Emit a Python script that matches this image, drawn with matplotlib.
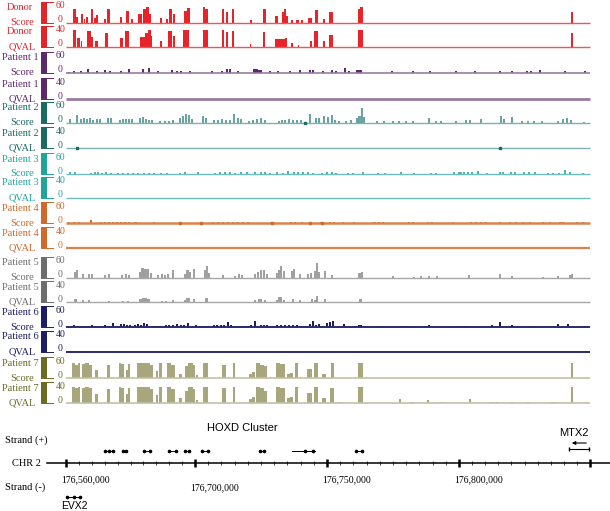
import numpy as np
import matplotlib
matplotlib.use("Agg")
import matplotlib.pyplot as plt
from matplotlib.patches import Rectangle

W, H = 610, 511
SERIF = "Liberation Serif"
SANS = "Liberation Sans"

# peaks are (start, end, value); start/end are positions along the browser window
donor_score = [(73,76,46),(76,78,20),(81,83,30),(84,85,12),(86,88,18),(91,93,44),(94,96,14),(96,98,24),
               (104,106,12),(107,110,46),(120,122,18),(126,129,40),(131,133,12),(138,142,28),(143,146,44),
               (146,149,52),(149,151,30),(160,162,16),(166,168,12),(169,172,46),(173,175,30),(184,187,38),
               (187,190,50),(203,205,52),(205,208,46),(222,224,46),(226,228,34),(232,234,46),(250,252,10),
               (263,266,46),(275,278,22),(282,284,34),(284,286,46),(286,288,22),(291,293,10),(296,299,8),
               (301,303,10),(308,312,16),(315,318,42),(323,325,12),(329,333,34),(358,360,44),(360,363,52),
               (571,573,36)]
donor_qval = [(73,76,36),(77,80,20),(81,82,12),(87,91,34),(91,93,22),(95,98,12),(105,108,30),(120,123,20),
              (125,129,34),(140,145,22),(145,148,30),(148,151,36),(150,152,24),(160,162,12),(168,172,34),
              (173,175,24),(183,189,36),(203,208,36),(222,224,36),(226,228,32),(232,234,34),(250,251,6),
              (263,265,32),(275,285,16),(285,287,20),(291,293,8),(298,299,4),(310,312,12),(314,318,34),
              (323,325,12),(329,333,26),(358,363,36),(571,573,30)]
p1_score = [(68,70,3),(73,75,4),(80,82,5),(87,89,13),(96,98,6),(104,106,9),(109,111,7),(120,122,5),(128,130,11),
            (142,144,11),(148,150,16),(157,159,6),(171,173,9),(176,178,5),(180,182,6),(189,191,6),(211,213,6),
            (221,223,6),(226,228,11),(229,231,13),(237,239,6),(253,255,13),(255,258,11),(258,262,9),(269,271,6),
            (277,279,6),(289,291,6),(299,301,9),(309,311,9),(312,314,8),(322,324,6),(331,333,9),(335,337,5),
            (344,346,17),(348,350,6),(356,358,9),(358,362,10),(391,393,4),(412,414,4),(429,431,4),(455,457,5),
            (474,476,5),(499,501,5),(511,513,5),(526,528,4),(530,532,5),(539,541,9),(564,566,4),(584,586,5)]
p1_qval = []
p2_score = [(69,71,11),(76,78,24),(80,82,11),(83,85,14),(86,88,12),(89,91,15),(92,94,10),(96,98,13),(99,101,11),
            (107,109,16),(110,112,14),(119,121,9),(122,124,12),(125,127,13),(128,130,11),(131,133,12),(139,141,14),
            (142,144,20),(145,147,12),(148,150,10),(151,153,8),(159,161,6),(164,166,7),(168,170,6),(172,174,8),
            (179,181,14),(182,184,22),(185,187,30),(188,190,24),(191,193,12),(202,204,22),(205,207,16),(213,215,8),
            (217,219,10),(221,223,11),(225,227,10),(229,231,9),(233,235,28),(237,239,14),(240,242,13),(248,250,6),
            (252,254,9),(256,258,12),(260,262,14),(264,266,8),(278,280,6),(281,283,9),(284,286,10),(288,290,11),
            (292,294,9),(296,298,10),(300,302,8),(309,311,28),(315,317,16),(318,320,14),(323,325,22),(327,329,18),
            (331,333,24),(334,336,10),(338,340,4),(345,347,6),(350,352,10),(356,358,16),(358,361,22),(361,363,50),
            (363,365,18),(376,378,4),(383,385,4),(392,394,4),(398,400,5),(405,407,4),(412,414,5),(428,430,15),
            (435,437,5),(440,442,4),(455,457,4),(465,467,8),(469,471,10),(480,482,11),(500,502,22),(503,505,12),
            (511,513,18),(521,523,5),(527,529,5),(533,535,6),(541,543,4),(557,559,6),(562,564,12),(566,568,14),
            (570,572,10),(583,585,3)]
p2_qval = []
p3_score = [(69,71,6),(74,76,5),(90,92,3),(94,96,5),(97,99,8),(101,103,4),(105,107,5),(110,112,3),(117,119,3),
            (122,124,3),(127,129,4),(132,134,3),(137,139,3),(143,145,4),(148,150,3),(153,155,3),(160,162,3),
            (166,168,4),(179,181,4),(184,186,7),(197,199,5),(214,216,4),(219,221,5),(224,226,6),(229,231,5),
            (234,236,4),(240,242,6),(246,248,8),(254,256,6),(260,262,5),(264,266,7),(269,271,4),(276,278,8),
            (282,284,4),(287,289,9),(293,295,5),(297,299,6),(302,304,5),(307,309,5),(312,314,4),(321,323,4),
            (326,328,6),(331,333,5),(335,337,4),(347,349,3),(352,354,3),(362,364,5),(377,379,3),(384,386,3),
            (400,402,6),(413,415,3),(430,432,4),(435,437,4),(453,455,5),(458,462,7),(463,465,6),(467,469,8),
            (471,473,6),(477,479,10),(486,488,4),(499,501,8),(502,504,6),(510,512,8),(514,516,7),(523,525,5),
            (528,530,6),(534,536,5),(547,549,3),(552,554,3),(558,560,4),(564,566,12),(569,571,6),(582,584,3)]
p3_qval = []
p4_score = [(68,70,4),(73,75,5),(78,80,4),(90,92,10),(100,102,4),(104,106,5),(108,110,4),(112,114,5),(116,118,4),
            (120,122,5),(124,126,4),(128,130,4),(134,137,5),(153,155,4),(212,214,4),(217,219,4),(222,224,4),
            (227,229,5),(232,234,4),(237,239,5),(242,244,4),(247,249,5),(270,272,5),(290,292,4),(294,296,4),
            (301,303,5),(320,322,5),(329,331,5),(333,335,3),(342,344,4),(353,355,4),(373,376,6),(378,380,5),
            (382,384,4),(408,410,4),(412,414,5),(427,429,4),(431,433,5),(452,454,4),(470,472,4),(475,477,5),
            (480,482,4),(485,487,5),(499,501,4),(509,511,5),(515,517,4),(522,524,5),(529,531,4),(542,544,4),
            (549,551,5),(559,561,4),(562,564,5),(576,578,4),(582,584,6)]
p4_qval = []
p5_score = [(74,76,20),(76,78,24),(82,84,11),(88,90,13),(91,93,11),(104,106,8),(108,110,11),(121,123,8),
            (125,127,11),(128,130,9),(139,141,20),(141,144,33),(144,147,28),(147,149,30),(150,152,14),(157,159,9),
            (161,163,11),(164,166,10),(167,169,12),(172,174,24),(184,186,12),(186,189,26),(189,191,20),(193,195,28),
            (204,206,24),(206,208,38),(208,210,14),(222,224,9),(234,236,6),(238,240,11),(241,243,10),(254,256,11),
            (257,259,20),(260,262,24),(263,265,24),(266,268,12),(276,278,16),(278,280,24),(280,282,38),(283,285,22),
            (291,293,22),(293,295,28),(299,301,11),(307,309,12),(310,312,17),(314,316,22),(316,318,48),(318,320,20),
            (324,326,22),(331,333,8),(358,361,14),(361,363,20),(392,394,4),(413,415,3),(420,422,4),(428,430,5),
            (436,438,5),(468,470,10),(499,501,12),(511,513,5),(542,544,3),(557,559,4),(569,571,10),(571,573,12)]
p5_qval = [(74,77,8),(82,84,4),(88,90,4),(108,110,3),(122,124,2),(127,129,3),(139,142,8),(142,147,10),(147,150,8),
           (161,163,3),(165,167,3),(172,174,6),(184,186,4),(186,190,9),(193,195,8),(205,208,10),(254,256,4),
           (258,262,7),(264,266,6),(276,278,5),(278,282,12),(283,285,6),(292,294,8),(299,301,4),(311,313,8),
           (314,316,6),(316,318,14),(324,326,7),(359,362,7)]
p6_score = [(70,72,4),(73,75,6),(77,79,5),(80,82,5),(88,90,5),(91,93,6),(95,97,5),(104,106,9),(112,114,13),
            (120,122,10),(123,125,12),(126,128,9),(129,131,6),(134,136,9),(137,139,11),(140,142,9),(143,145,13),
            (146,148,10),(152,154,5),(156,158,5),(165,167,6),(168,170,8),(172,174,9),(176,178,10),(180,182,7),
            (183,185,9),(187,189,13),(191,193,5),(195,197,6),(200,202,5),(213,215,6),(216,218,8),(220,222,9),
            (223,225,7),(227,229,16),(230,232,8),(237,239,5),(244,246,5),(250,252,6),(254,256,20),(260,262,9),
            (263,265,6),(266,268,8),(276,278,6),(280,282,9),(284,286,8),(288,290,9),(292,294,7),(296,298,8),
            (309,311,10),(312,314,20),(315,317,9),(318,320,10),(326,328,14),(329,331,16),(332,334,22),(343,345,10),
            (358,360,8),(360,362,6),(376,378,5),(402,404,4),(405,409,4),(428,430,6),(455,467,4),(491,493,6),
            (499,501,18),(511,513,6),(532,534,5),(557,559,10),(567,569,12)]
p6_qval = []
p7_score = [(72,75,50),(75,78,46),(78,80,50),(82,85,48),(85,89,50),(89,92,46),(95,98,28),(107,110,44),(119,121,50),
            (121,124,48),(126,128,28),(128,130,48),(137,141,50),(141,150,50),(150,153,44),(156,158,26),(159,162,50),
            (167,171,50),(171,175,44),(179,182,16),(185,188,40),(188,193,50),(193,195,44),(196,198,10),(203,208,50),
            (222,226,46),(233,235,50),(249,252,14),(252,255,20),(256,260,50),(260,264,46),(264,267,40),(276,280,50),
            (280,285,48),(287,290,16),(290,293,18),(295,298,50),(307,312,32),(314,318,50),(322,326,16),(331,334,50),
            (358,363,50),(417,418,2),(540,543,2),(548,551,2),(553,560,2),(561,563,2),(571,573,50)]
p7_qval = [(72,75,36),(75,78,33),(78,80,36),(82,85,34),(85,89,36),(89,92,33),(95,98,20),(107,110,32),(119,121,36),
           (121,124,34),(126,128,20),(128,130,34),(137,141,36),(141,150,36),(150,153,32),(156,158,18),(159,162,36),
           (167,171,36),(171,175,32),(179,182,12),(185,188,28),(188,193,36),(193,195,32),(196,198,8),(203,208,36),
           (222,226,33),(233,235,36),(249,252,10),(252,255,14),(256,260,36),(260,264,33),(264,267,28),(276,280,36),
           (280,285,34),(287,290,12),(290,293,13),(295,298,36),(307,312,23),(314,318,36),(322,326,12),(330,334,34),
           (339,341,3),(358,363,36),(399,401,10),(410,413,3),(427,429,7),(441,443,3),(469,471,9),(491,493,3),
           (496,498,3),(511,513,3),(527,529,3),(551,555,4),(571,573,36)]

# single dark squares sitting on the baseline
p2_score_marks = [305]
p2_qval_marks = [77, 500]
p4_score_marks = [180, 201, 272, 310, 322]

# genome axis
chr_ticks = [66, 195, 327, 459, 590]
chr_labels = ["176,560,000", "176,700,000", "176,750,000", "176,800,000", ""]
hoxd_genes = [(105,113),(123,126),(144,150),(169,176),(185,189),(202,208),(260,264),(292,315),(356,362)]
hoxd_exons = [105,109,113,123,126,144,150,169,176,185,189,202,208,260,264,305,313,356,362]
mtx2 = (569, 589)
evx2 = (67, 80)

# colours: label/bracket, signal, baseline
colors = {
    "Donor":     ("#e3242b", "#e8242a", "#e9585c"),
    "Patient 1": ("#5b2a6b", "#5b2a6b", "#9a7aa2"),
    "Patient 2": ("#1a6b62", "#6aa39f", "#7fb2ae"),
    "Patient 3": ("#21a49a", "#4db3ac", "#6cc0ba"),
    "Patient 4": ("#cf6a2b", "#d06a2a", "#d9844d"),
    "Patient 5": ("#6d6d6d", "#a0a0a0", "#a8a8a8"),
    "Patient 6": ("#1d1d63", "#1d1d63", "#2a2a6e"),
    "Patient 7": ("#6b6b24", "#a8a67c", "#c2c0a4"),
}

tracks = [
    ("Donor", "Score", 60, donor_score, []),
    ("Donor", "QVAL", 40, donor_qval, []),
    ("Patient 1", "Score", 60, p1_score, []),
    ("Patient 1", "QVAL", 40, p1_qval, []),
    ("Patient 2", "Score", 60, p2_score, p2_score_marks),
    ("Patient 2", "QVAL", 40, p2_qval, p2_qval_marks),
    ("Patient 3", "Score", 60, p3_score, []),
    ("Patient 3", "QVAL", 40, p3_qval, []),
    ("Patient 4", "Score", 60, p4_score, p4_score_marks),
    ("Patient 4", "QVAL", 40, p4_qval, []),
    ("Patient 5", "Score", 60, p5_score, []),
    ("Patient 5", "QVAL", 40, p5_qval, []),
    ("Patient 6", "Score", 60, p6_score, []),
    ("Patient 6", "QVAL", 40, p6_qval, []),
    ("Patient 7", "Score", 60, p7_score, []),
    ("Patient 7", "QVAL", 40, p7_qval, []),
]
baselines = [22.7, 46.7, 72.7, 99.3, 122.7, 148.3, 174, 197.7, 223.3, 248.3, 277.7, 302.3, 327.3, 351.7, 378.3, 403.3]
base_lw = [1.0, 1.0, 1.2, 2.0, 1.0, 1.0, 1.0, 1.0, 1.8, 1.6, 1.0, 1.0, 1.4, 1.4, 1.2, 1.2]

fig = plt.figure(figsize=(W / 100, H / 100), dpi=100)
ov = fig.add_axes([0, 0, 1, 1])
ov.set_xlim(0, W)
ov.set_ylim(H, 0)
ov.axis("off")

X0, X1 = 60, 592
for (name, kind, top, peaks, marks), yb, lw in zip(tracks, baselines, base_lw):
    dark, sig, base = colors[name]
    ax = fig.add_axes([X0 / W, 1 - yb / H, (X1 - X0) / W, 18 / H])
    ax.set_xlim(X0, X1)
    ax.set_ylim(0, top)
    ax.axis("off")
    if peaks:
        starts = [p[0] for p in peaks]
        widths = [p[1] - p[0] for p in peaks]
        vals = [p[2] for p in peaks]
        ax.bar(starts, vals, width=widths, align="edge", color=sig, linewidth=0)
    ax.plot([66, 590], [0, 0], color=base, lw=lw, clip_on=False, solid_capstyle="butt")
    if marks:
        ax.plot(marks, [0] * len(marks), "s", ms=1.5, color=dark, clip_on=False)

    # scale bracket and labels
    ov.add_patch(Rectangle((41, yb - 21), 6, 21, color=dark, lw=0))
    ov.plot([41, 53], [yb - 21, yb - 21], color=dark, lw=0.7)
    ov.plot([41, 53], [yb, yb], color=dark, lw=0.7)
    ov.text(56, yb - 17, str(top), ha="left", va="center", fontsize=7, family=SERIF, color=dark)
    ov.text(58, yb - 3, "0", ha="left", va="center", fontsize=7, family=SERIF, color=dark)
    ov.text(20, yb - 15, name, ha="center", va="center", fontsize=7.5, family=SERIF, color=dark)
    ov.text(22, yb, kind, ha="center", va="center", fontsize=7.5, family=SERIF, color=dark)

# chromosome ruler
chr_y = 463
ov.plot([47, W], [chr_y, chr_y], color="black", lw=1.1)
ov.vlines(chr_ticks, chr_y - 4, chr_y + 4, color="black", lw=1.8)
for a, b in zip(chr_ticks[:-1], chr_ticks[1:]):
    ov.vlines(np.linspace(a, b, 11)[1:-1], chr_y - 2, chr_y + 2, color="black", lw=0.5)
for i, (pos, lab) in enumerate(zip(chr_ticks, chr_labels)):
    ov.text(pos - 5, 480 + (8 if i == 1 else 0), lab, ha="left", va="center",
            fontsize=7, family=SERIF)

# genes
for s, e in hoxd_genes:
    ov.plot([s, e], [451, 451], color="black", lw=0.7)
ov.plot(hoxd_exons, [451] * len(hoxd_exons), "o", ms=1.6, color="black")
ov.annotate("", xy=(mtx2[0], 443), xytext=(mtx2[1], 443),
            arrowprops=dict(arrowstyle="-|>", lw=0.8, color="black", mutation_scale=5))
ov.plot(list(mtx2), [449, 449], color="black", lw=0.8, marker="|", ms=3)
ov.plot(list(evx2), [497, 497], color="black", lw=0.7, marker="o", ms=1.6)
ov.plot([(evx2[0] + evx2[1]) / 2], [497], "o", ms=1.6, color="black")

ov.text(242, 428, "HOXD Cluster", ha="center", va="center", fontsize=8, family=SANS)
ov.text(574, 433, "MTX2", ha="center", va="center", fontsize=8, family=SANS)
ov.text(74, 506, "EVX2", ha="center", va="center", fontsize=7.5, family=SANS)
ov.text(5, 440, "Strand (+)", ha="left", va="center", fontsize=7.5, family=SERIF)
ov.text(12, 463, "CHR 2", ha="left", va="center", fontsize=7.5, family=SERIF)
ov.text(5, 487, "Strand (-)", ha="left", va="center", fontsize=7.5, family=SERIF)

fig.savefig("out.png", dpi=100)
